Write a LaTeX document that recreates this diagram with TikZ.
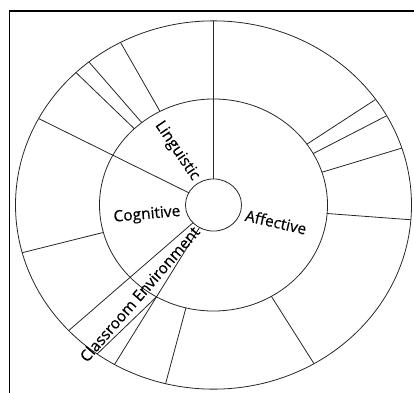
\documentclass[tikz,border=0pt]{standalone}
\usepackage{fontspec}
\setmainfont{Open Sans}
\newfontfamily\lblfont{Open Sans}[FakeBold=0.4]
\begin{document}
\begin{tikzpicture}[x=1pt,y=1pt,
  ln/.style={line width=0.8pt, draw=black!85},
  frame/.style={line width=1.6pt, draw=black},
  lbl/.style={font=\lblfont\fontsize{15.5}{18}\selectfont, inner sep=0pt, text=black}]
\useasboundingbox (0,0) rectangle (414,392);
\clip (0,0) rectangle (414,392);
\draw[frame] (9.5,-20) -- (9.5,381) -- (440,381);
\begin{scope}[shift={(213.5,187)}, yscale=0.93]
  \coordinate (C) at (0,0);
  \draw[ln] (C) circle (198);
  \draw[ln] (C) circle (114);
  \draw[ln] (C) circle (28);
  % full spokes
  \foreach \a in {90,152,223,240} \draw[ln] (\a:28) -- (\a:198);
  % branch
  \draw[ln] (240:114) -- (234:198);
  % outer ring segments
  \foreach \a in {118,129,134,195,256,300.5,35,29,18,-4.6} \draw[ln] (\a:114) -- (\a:198);
\end{scope}
\node[lbl, rotate=-56] (ling) at (177,241) {Linguistic};
\node[lbl, rotate=5] (cog) at (147,177) {Cognitive};
\node[lbl, rotate=-13] (aff) at (276,170) {Affective};
\node[lbl, rotate=49] (cls) at (139.5,98) {Classroom Environment};
\end{tikzpicture}
\end{document}
